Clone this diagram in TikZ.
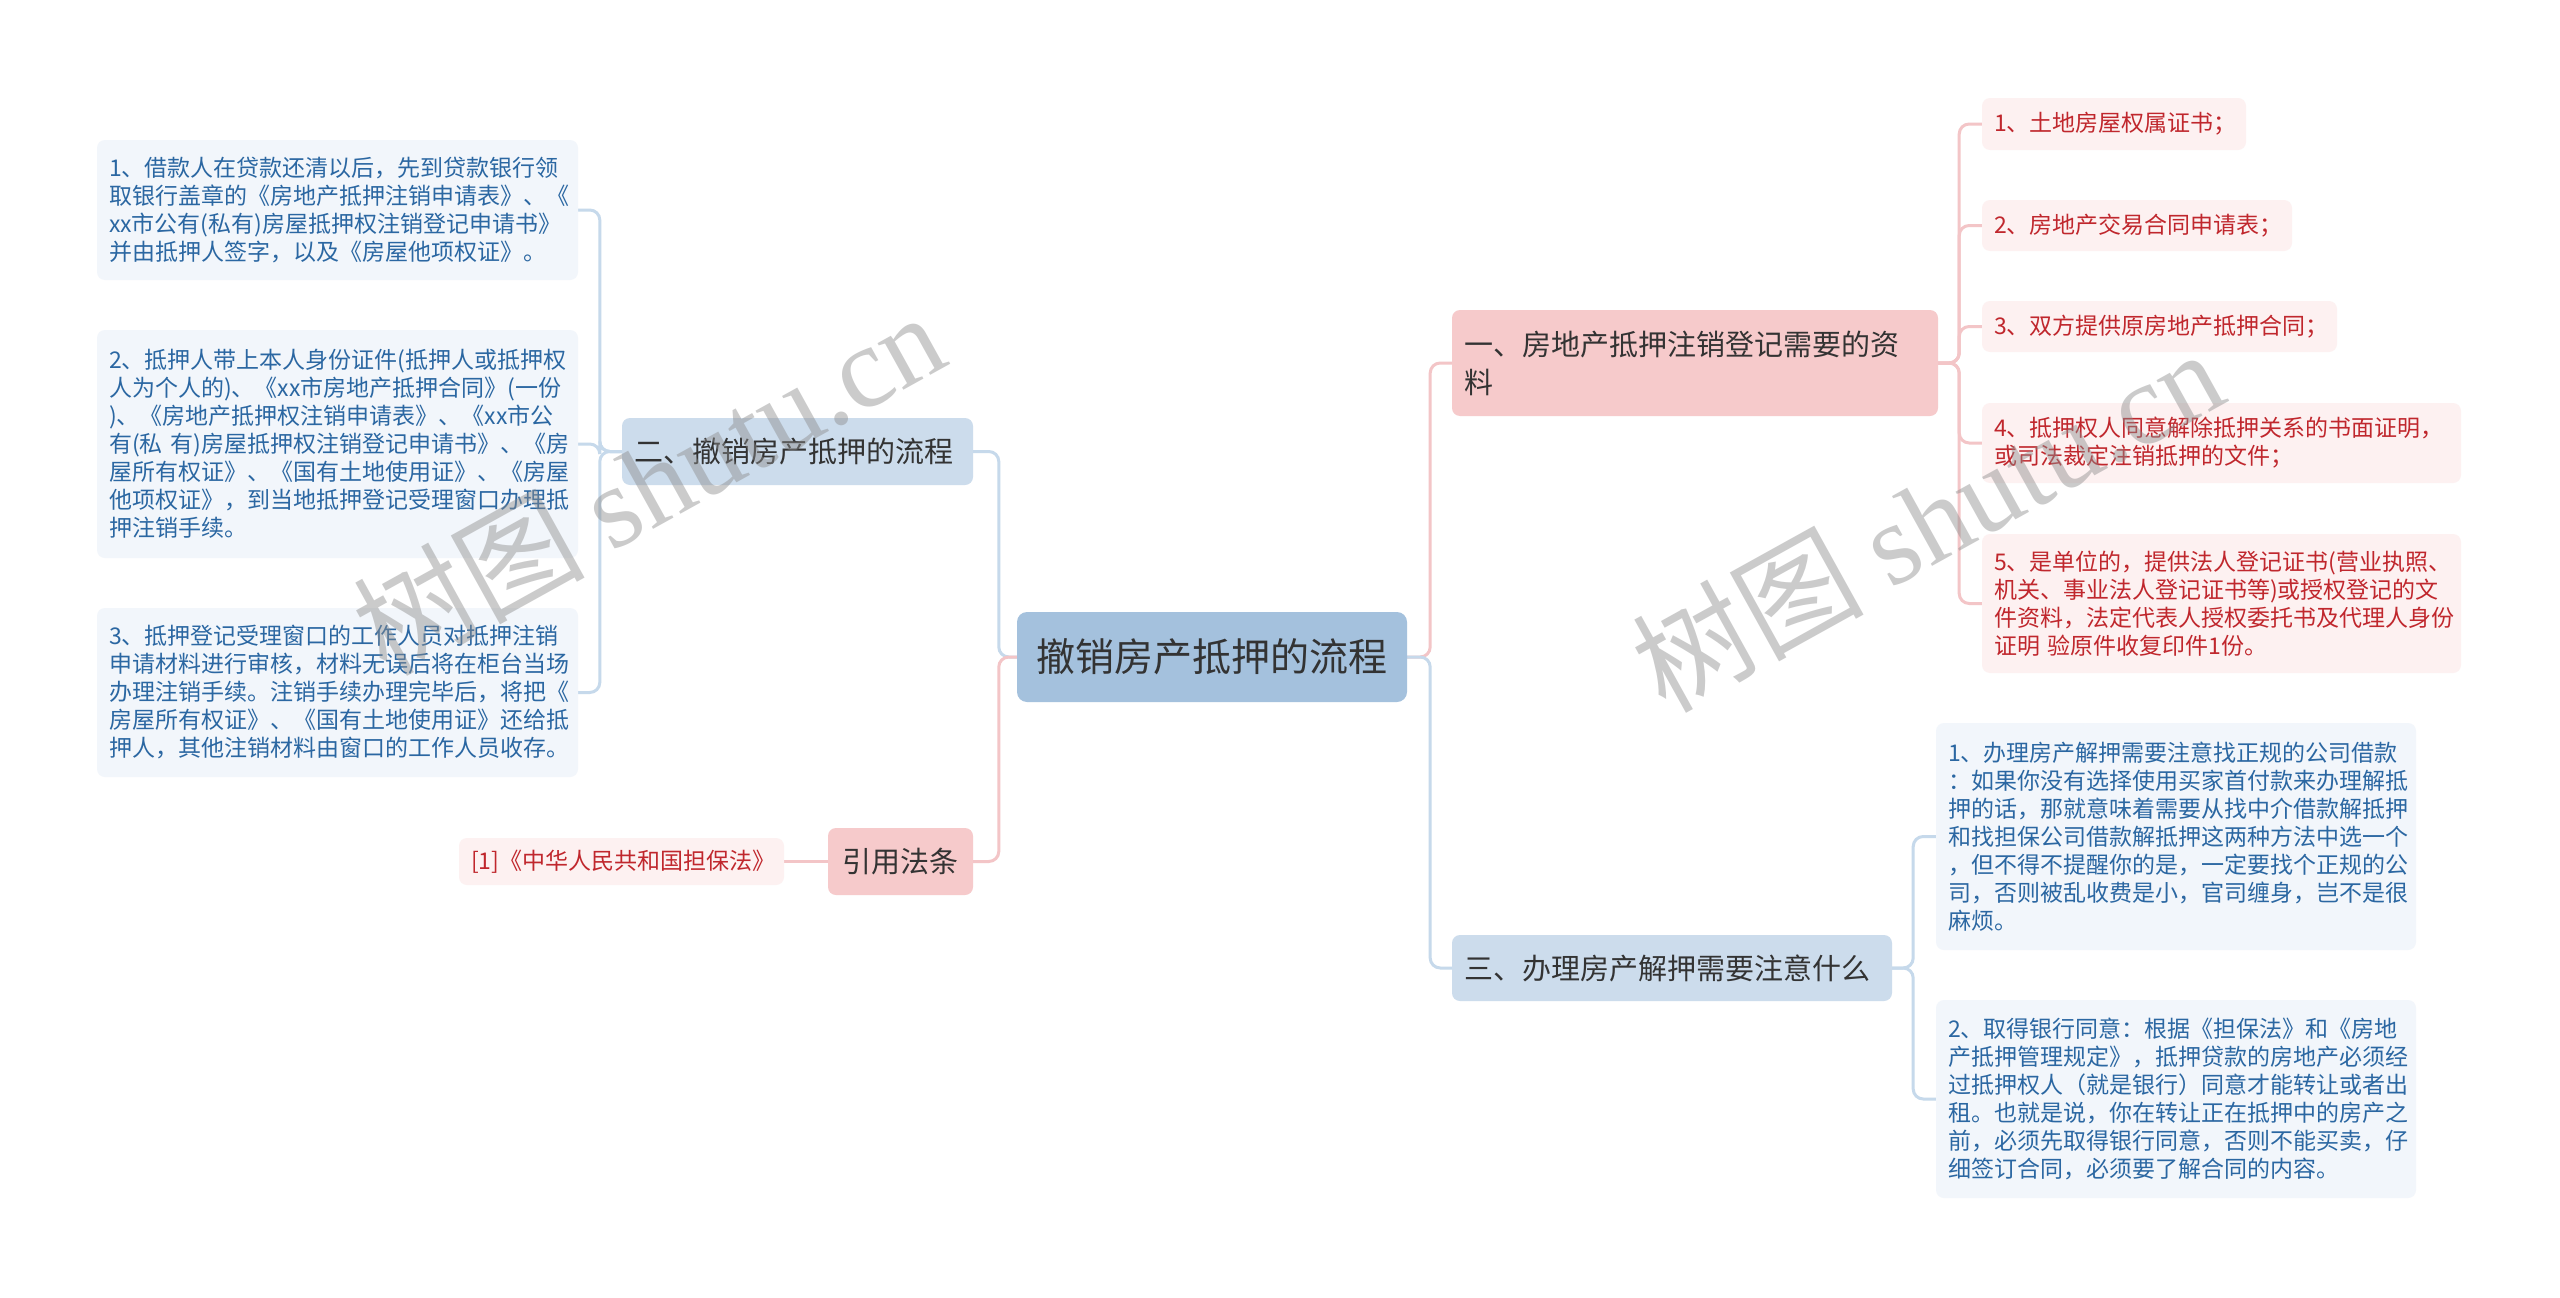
\documentclass[tikz,border=0pt]{standalone}
\usepackage{fontspec}
\setmainfont{Noto Sans CJK SC}
\newfontfamily\wmserif{Liberation Serif}
\usetikzlibrary{backgrounds}
\definecolor{rootfill}{HTML}{A4C1DD}
\definecolor{bluefill}{HTML}{CCDCEC}
\definecolor{pinkfill}{HTML}{F6CACB}
\definecolor{leafbluefill}{HTML}{F2F6FB}
\definecolor{leafpinkfill}{HTML}{FDF1F1}
\definecolor{bluetext}{HTML}{2B67A2}
\definecolor{redtext}{HTML}{C0272D}
\definecolor{maintext}{HTML}{333333}
\definecolor{blueline}{HTML}{C6D9EB}
\definecolor{pinkline}{HTML}{F3C5C7}
\tikzset{
  base/.style={rounded corners=8pt, inner xsep=12pt, inner ysep=0pt, align=left, anchor=center},
  sz/.style n args={3}{minimum width=#1pt, minimum height=#2pt, text width=#3pt},
  rootbox/.style={base, rounded corners=10pt, fill=rootfill, text=maintext, font=\fontsize{39}{46}\selectfont, align=center},
  mainblue/.style={base, fill=bluefill, text=maintext, font=\fontsize{29}{38}\selectfont},
  mainpink/.style={base, fill=pinkfill, text=maintext, font=\fontsize{29}{38}\selectfont},
  leafblue/.style={base, fill=leafbluefill, text=bluetext, font=\fontsize{23}{28}\selectfont},
  leafpink/.style={base, fill=leafpinkfill, text=redtext, font=\fontsize{23}{28}\selectfont},
  conblue/.style={draw=blueline, line width=3pt, rounded corners=10pt},
  conpink/.style={draw=pinkline, line width=3pt, rounded corners=10pt},
  wm/.style={text=black!45, text opacity=0.45, rotate=29, font=\fontsize{116}{120}\selectfont, anchor=center}
}
\begin{document}
\begin{tikzpicture}[x=1pt,y=-1pt]
\useasboundingbox (0,0) rectangle (2560,1298);

% root
\node[rootbox, sz={390}{90}{366}] (root) at (1212,657) {撤销房产抵押的流程};

% left main branches
\node[mainblue, sz={351}{67}{327}] (er) at (797.5,451.5) {二、撤销房产抵押的流程};
\node[mainpink, sz={145}{67}{121}, align=center] (yy) at (900.5,861.5) {引用法条};
\node[leafpink, sz={325}{47}{301}, align=center] (law) at (621.5,861.5) {[1]《中华人民共和国担保法》};

% left leaves
\node[leafblue, sz={481}{140}{457}] (l1) at (337.5,210) {1、借款人在贷款还清以后，先到贷款银行领\\取银行盖章的《房地产抵押注销申请表》、《\\xx市公有(私有)房屋抵押权注销登记申请书》\\并由抵押人签字，以及《房屋他项权证》。};
\node[leafblue, sz={481}{228}{457}] (l2) at (337.5,444) {2、抵押人带上本人身份证件(抵押人或抵押权\\人为个人的)、《xx市房地产抵押合同》(一份\\)、《房地产抵押权注销申请表》、《xx市公\\有(私~有)房屋抵押权注销登记申请书》、《房\\屋所有权证》、《国有土地使用证》、《房屋\\他项权证》，到当地抵押登记受理窗口办理抵\\押注销手续。};
\node[leafblue, sz={481}{169}{457}] (l3) at (337.5,692.5) {3、抵押登记受理窗口的工作人员对抵押注销\\申请材料进行审核，材料无误后将在柜台当场\\办理注销手续。注销手续办理完毕后，将把《\\房屋所有权证》、《国有土地使用证》还给抵\\押人，其他注销材料由窗口的工作人员收存。};

% right main branches
\node[mainpink, sz={486}{106}{462}] (yi) at (1695,363) {一、房地产抵押注销登记需要的资\\料};
\node[mainblue, sz={440}{66}{416}] (san) at (1672,968) {三、办理房产解押需要注意什么};

% right leaves of yi
\node[leafpink, sz={264}{52}{240}] (r1) at (2114,124) {1、土地房屋权属证书；};
\node[leafpink, sz={310}{51}{286}] (r2) at (2137,225.5) {2、房地产交易合同申请表；};
\node[leafpink, sz={355}{51}{331}] (r3) at (2159.5,326.5) {3、双方提供原房地产抵押合同；};
\node[leafpink, sz={479}{80}{455}] (r4) at (2221.5,443) {4、抵押权人同意解除抵押关系的书面证明，\\或司法裁定注销抵押的文件；};
\node[leafpink, sz={479}{139}{455}] (r5) at (2221.5,603.5) {5、是单位的，提供法人登记证书(营业执照、\\机关、事业法人登记证书等)或授权登记的文\\件资料，法定代表人授权委托书及代理人身份\\证明~验原件收复印件1份。};

% right leaves of san
\node[leafblue, sz={480}{227}{456}] (s1) at (2176,836.5) {1、办理房产解押需要注意找正规的公司借款\\：如果你没有选择使用买家首付款来办理解抵\\押的话，那就意味着需要从找中介借款解抵押\\和找担保公司借款解抵押这两种方法中选一个\\，但不得不提醒你的是，一定要找个正规的公\\司，否则被乱收费是小，官司缠身，岂不是很\\麻烦。};
\node[leafblue, sz={480}{198}{456}] (s2) at (2176,1099) {2、取得银行同意：根据《担保法》和《房地\\产抵押管理规定》，抵押贷款的房地产必须经\\过抵押权人（就是银行）同意才能转让或者出\\租。也就是说，你在转让正在抵押中的房产之\\前，必须先取得银行同意，否则不能买卖，仔\\细签订合同，必须要了解合同的内容。};

\begin{scope}[on background layer]
\fill[white] (0,0) rectangle (2560,1298);
% root connectors
\draw[conblue] (root.west) -- ++(-18,0) |- (er.east);
\draw[conpink] (root.west) -- ++(-18,0) |- (yy.east);
\draw[conpink] (root.east) -- ++(23,0) |- (yi.west);
\draw[conblue] (root.east) -- ++(23,0) |- (san.west);
% er leaves
\draw[conblue] (er.west) -- ++(-22,0) |- (l1.east);
\draw[conblue] (er.west) -- ++(-22,0) |- (l2.east);
\draw[conblue] (er.west) -- ++(-22,0) |- (l3.east);
% law
\draw[conpink] (yy.west) -- (law.east);
% yi leaves
\draw[conpink] (yi.east) -- ++(21,0) |- (r1.west);
\draw[conpink] (yi.east) -- ++(21,0) |- (r2.west);
\draw[conpink] (yi.east) -- ++(21,0) |- (r3.west);
\draw[conpink] (yi.east) -- ++(21,0) |- (r4.west);
\draw[conpink] (yi.east) -- ++(21,0) |- (r5.west);
% san leaves
\draw[conblue] (san.east) -- ++(21,0) |- (s1.west);
\draw[conblue] (san.east) -- ++(21,0) |- (s2.west);
\end{scope}

% watermarks
\node[wm] (wm1) at (648,482) {树图 {\wmserif shutu.cn}};
\node[wm] (wm2) at (1927,519) {树图 {\wmserif shutu.cn}};
\end{tikzpicture}
\end{document}
